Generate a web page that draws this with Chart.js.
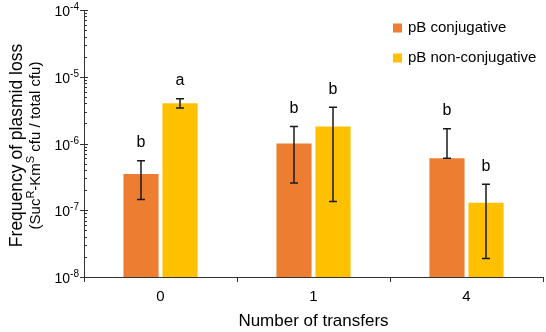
<!DOCTYPE html>
<html>
<head>
<meta charset="utf-8">
<script src="https://cdn.jsdelivr.net/npm/chart.js@4/dist/chart.umd.min.js"></script>
<style>
  html, body { margin: 0; padding: 0; background: #fff; }
  #wrap { width: 546px; height: 332px; }
</style>
</head>
<body>
<div id="wrap"><canvas id="c" width="546" height="332"></canvas></div>
<script>
// transfers on the x axis
const transfers = ["0", "1", "4"]
const seriesNames = ["pB conjugative", "pB non-conjugative"]
const seriesColors = ["#ED7D31", "#FFC000"]

// bar heights (frequency of plasmid loss)
const conjValues = [3.5e-7, 1.0e-6, 6.0e-7]
const nonConjValues = [4.0e-6, 1.8e-6, 1.3e-7]

// error bar ends
const conjLow = [1.45e-7, 2.55e-7, 6.0e-7]
const conjHigh = [5.5e-7, 1.8e-6, 1.67e-6]
const nonConjLow = [3.4e-6, 1.35e-7, 1.9e-8]
const nonConjHigh = [4.7e-6, 3.5e-6, 2.45e-7]

// significance letters
const conjLetters = ["b", "b", "b"]
const nonConjLetters = ["a", "b", "b"]

// y axis decades: exponent labels
const decadeExps = [-8, -7, -6, -5, -4]

const FONT = "Arial, 'Liberation Sans', sans-serif"

// draws text with superscript parts, returns total width
function supText(ctx, parts, x, y, size, align) {
    // parts: [[text, isSup], ...]
    const supSize = Math.round(size * 0.7)
    let w = 0
    parts.forEach(p => {
        ctx.font = (p[1] ? supSize : size) + "px " + FONT
        w += ctx.measureText(p[0]).width
    })
    let cx = x
    if (align === "right") cx = x - w
    if (align === "center") cx = x - w / 2
    ctx.textAlign = "left"
    ctx.textBaseline = "alphabetic"
    const base = y + size * 0.36
    parts.forEach(p => {
        ctx.font = (p[1] ? supSize : size) + "px " + FONT
        ctx.fillText(p[0], cx, p[1] ? base - size * 0.4 : base)
        cx += ctx.measureText(p[0]).width
    })
    return w
}

const extras = {
    id: "extras",
    afterDatasetsDraw(chart) {
        const ctx = chart.ctx
        const y = chart.scales.y
        const area = chart.chartArea
        ctx.save()

        // error bars + letters
        const lows = [conjLow, nonConjLow]
        const highs = [conjHigh, nonConjHigh]
        const letters = [conjLetters, nonConjLetters]
        for (let d = 0; d < 2; d++) {
            const meta = chart.getDatasetMeta(d)
            meta.data.forEach((bar, i) => {
                const x = bar.x
                const yl = y.getPixelForValue(lows[d][i])
                const yh = y.getPixelForValue(highs[d][i])
                ctx.strokeStyle = "#1a1a1a"
                ctx.lineWidth = 1.5
                ctx.beginPath()
                ctx.moveTo(x, yl); ctx.lineTo(x, yh)
                ctx.moveTo(x - 4, yl); ctx.lineTo(x + 4, yl)
                ctx.moveTo(x - 4, yh); ctx.lineTo(x + 4, yh)
                ctx.stroke()
                ctx.fillStyle = "#000"
                ctx.font = "16px " + FONT
                ctx.textAlign = "center"
                ctx.textBaseline = "middle"
                ctx.fillText(letters[d][i], x, yh - 18)
            })
        }

        // y axis minor/major ticks and labels
        ctx.strokeStyle = "#333"
        ctx.lineWidth = 1
        ctx.fillStyle = "#000"
        decadeExps.forEach((e, k) => {
            const v = Math.pow(10, e)
            const py = Math.round(y.getPixelForValue(v)) + 0.5
            ctx.beginPath()
            ctx.moveTo(area.left - 4, py); ctx.lineTo(area.left + 4, py)
            ctx.stroke()
            supText(ctx, [["10", false], [String(e), true]], area.left - 5, py, 14, "right")
            if (k < decadeExps.length - 1) {
                for (let m = 2; m <= 9; m++) {
                    const my = Math.round(y.getPixelForValue(m * v)) + 0.5
                    ctx.beginPath()
                    ctx.moveTo(area.left, my); ctx.lineTo(area.left + 3, my)
                    ctx.stroke()
                }
            }
        })

        // y axis title (two lines)
        const cy = (area.top + area.bottom) / 2
        ctx.save()
        ctx.translate(16, cy + 2)
        ctx.rotate(-Math.PI / 2)
        ctx.fillStyle = "#000"
        supText(ctx, [["Frequency of plasmid loss", false]], 0, 0, 17.5, "center")
        ctx.restore()
        ctx.save()
        ctx.translate(35, cy + 2)
        ctx.rotate(-Math.PI / 2)
        ctx.fillStyle = "#000"
        supText(ctx, [["(Suc", false], ["R", true], ["-Km", false], ["S", true], [" cfu / total cfu)", false]], 0, 0, 15, "center")
        ctx.restore()

        // legend
        seriesNames.forEach((name, i) => {
            const ly = 28 + i * 30
            ctx.fillStyle = seriesColors[i]
            ctx.fillRect(393, ly - 4.5, 9, 9)
            ctx.fillStyle = "#000"
            ctx.font = "15px " + FONT
            ctx.textAlign = "left"
            ctx.textBaseline = "middle"
            ctx.fillText(name, 408, ly)
        })
        ctx.restore()
    }
}

new Chart(document.getElementById("c"), {
    type: "bar",
    data: {
        labels: transfers,
        datasets: [
            { label: seriesNames[0], data: conjValues, backgroundColor: seriesColors[0],
              categoryPercentage: 0.51, barPercentage: 0.9 },
            { label: seriesNames[1], data: nonConjValues, backgroundColor: seriesColors[1],
              categoryPercentage: 0.51, barPercentage: 0.9 }
        ]
    },
    options: {
        responsive: false,
        animation: false,
        layout: { padding: { top: 10, right: 3, left: 0, bottom: 0 } },
        plugins: { legend: { display: false }, tooltip: { enabled: false } },
        scales: {
            x: {
                grid: { offset: true, drawOnChartArea: false, tickLength: 5, color: "#333" },
                border: { color: "#333", width: 1 },
                ticks: { color: "#000", font: { size: 15, family: FONT }, padding: 6 },
                title: { display: true, text: "Number of transfers", color: "#000",
                         font: { size: 17, family: FONT }, padding: { top: 4, bottom: 0 } },
                afterFit(s) { s.height = 55 }
            },
            y: {
                type: "logarithmic",
                min: 1e-8,
                max: 1e-4,
                grid: { display: false, drawTicks: false },
                border: { color: "#333", width: 1 },
                ticks: { display: false },
                afterFit(s) { s.width = 84 }
            }
        }
    },
    plugins: [extras]
});
</script>
</body>
</html>
